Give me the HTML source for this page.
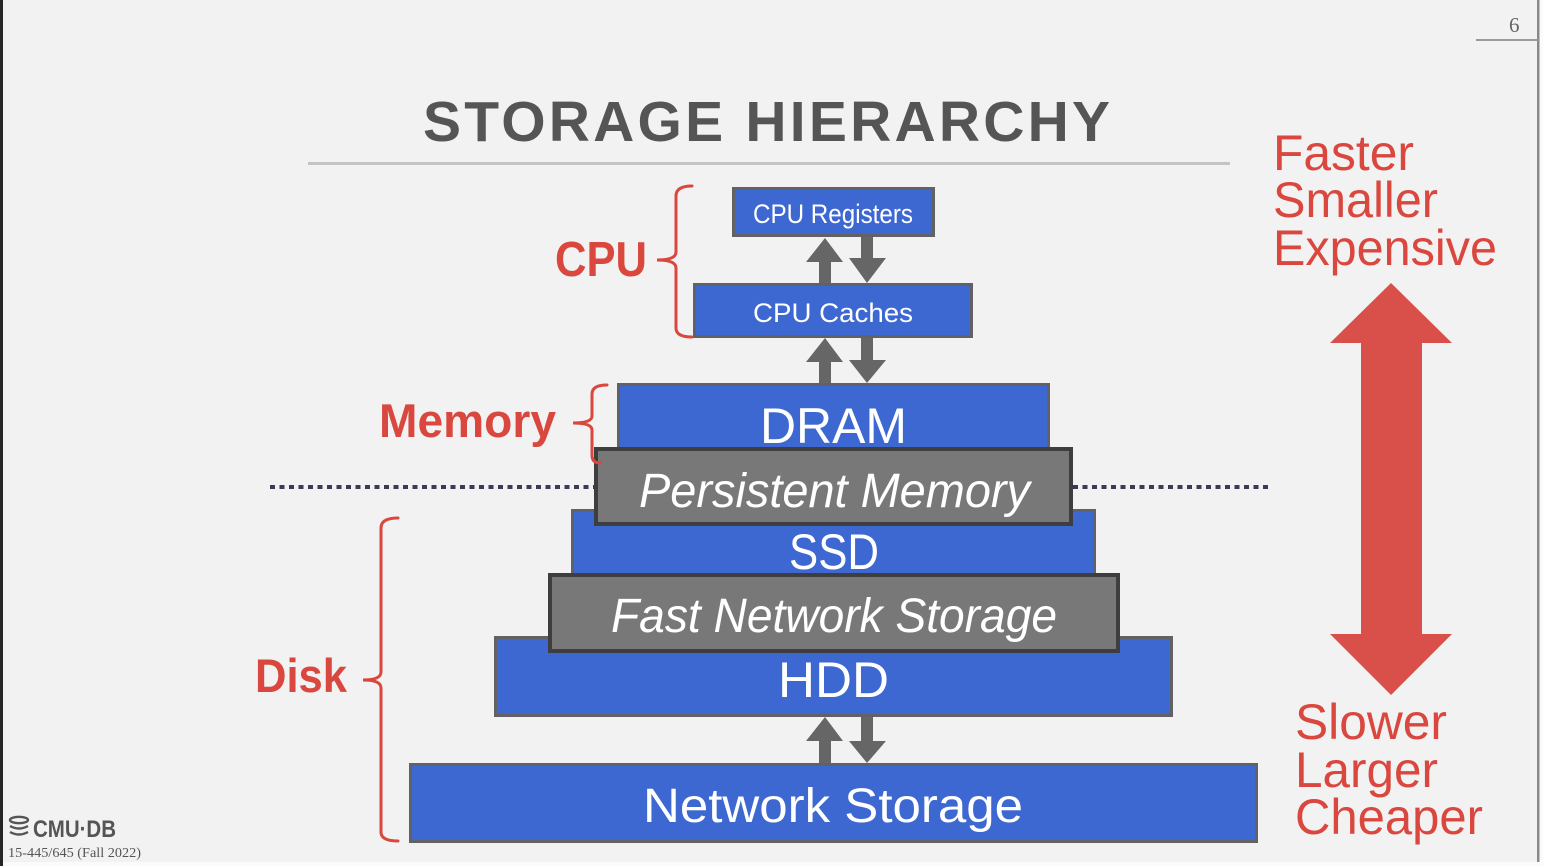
<!DOCTYPE html>
<html><head><meta charset="utf-8"><style>
html,body{margin:0;padding:0;background:#fff;}
svg{display:block;}
</style></head><body>
<svg width="1543" height="866" viewBox="0 0 1543 866" xmlns="http://www.w3.org/2000/svg" font-family="'Liberation Sans', sans-serif">
  <rect x="0" y="0" width="1543" height="866" fill="#fbfbfb"/>
  <rect x="0" y="0" width="1538" height="862" fill="#f2f2f2"/>
  <rect x="0" y="0" width="3" height="866" fill="#262626"/>
  <rect x="1537" y="0" width="2.5" height="862" fill="#8a8a8a"/>

  <!-- page number -->
  <text x="1509" y="32" font-family="'Liberation Serif', serif" font-size="21" fill="#666">6</text>
  <rect x="1476" y="39" width="62" height="2" fill="#9a9a9a"/>

  <!-- title -->
  <text x="423" y="141" font-size="57" font-weight="bold" fill="#555" textLength="687" lengthAdjust="spacing">STORAGE HIERARCHY</text>
  <rect x="308" y="162" width="922" height="3" fill="#c4c4c4"/>

  <!-- dotted separator -->
  <line x1="270" y1="487" x2="594" y2="487" stroke="#3b3b58" stroke-width="4" stroke-dasharray="5 4.5"/>
  <line x1="1073" y1="487" x2="1270" y2="487" stroke="#3b3b58" stroke-width="4" stroke-dasharray="5 4.5"/>

  <!-- arrows small -->
  <g fill="#666">
    <polygon points="825,238 843,262 831,262 831,283 819,283 819,262 806,262"/>
    <polygon points="861,237 873,237 873,258 886,258 867,283 849,258 861,258"/>
    <polygon points="825,338 843,362 831,362 831,383 819,383 819,362 806,362"/>
    <polygon points="861,338 873,338 873,360 886,360 867,383 849,360 861,360"/>
    <polygon points="825,717 843,741 831,741 831,763 819,763 819,741 806,741"/>
    <polygon points="861,717 873,717 873,741 886,741 867,763 849,741 861,741"/>
  </g>

  <!-- boxes -->
  <g stroke="#626262" stroke-width="3" fill="#3d68d1">
    <rect x="733.5" y="188.5" width="200" height="47"/>
    <rect x="694.5" y="284.5" width="277" height="52"/>
    <rect x="618.5" y="384.5" width="430" height="70"/>
    <rect x="572.5" y="510.5" width="522" height="70"/>
    <rect x="495.5" y="637.5" width="676" height="78"/>
    <rect x="410.5" y="764.5" width="846" height="77"/>
  </g>
  <g stroke="#3e3e3e" stroke-width="4" fill="#787878">
    <rect x="596" y="449" width="475" height="75"/>
    <rect x="550" y="575" width="568" height="76"/>
  </g>

  <!-- box labels -->
  <g fill="#ffffff">
    <text x="753" y="223" font-size="27" textLength="160" lengthAdjust="spacingAndGlyphs">CPU Registers</text>
    <text x="753" y="322" font-size="27" textLength="160" lengthAdjust="spacingAndGlyphs">CPU Caches</text>
    <text x="760" y="443" font-size="50" textLength="147" lengthAdjust="spacingAndGlyphs">DRAM</text>
    <text x="639" y="507" font-size="48" font-style="italic" textLength="391" lengthAdjust="spacingAndGlyphs">Persistent Memory</text>
    <text x="789" y="569" font-size="50" textLength="90" lengthAdjust="spacingAndGlyphs">SSD</text>
    <text x="611" y="632" font-size="48" font-style="italic" textLength="446" lengthAdjust="spacingAndGlyphs">Fast Network Storage</text>
    <text x="778" y="697" font-size="50" textLength="111" lengthAdjust="spacingAndGlyphs">HDD</text>
    <text x="643" y="822" font-size="48" textLength="380" lengthAdjust="spacingAndGlyphs">Network Storage</text>
  </g>

  <!-- left labels + braces -->
  <g fill="#d9473f" font-weight="bold">
    <text x="555" y="276" font-size="49" textLength="92" lengthAdjust="spacingAndGlyphs">CPU</text>
    <text x="379" y="437" font-size="47" textLength="177" lengthAdjust="spacingAndGlyphs">Memory</text>
    <text x="255" y="692" font-size="47" textLength="92" lengthAdjust="spacingAndGlyphs">Disk</text>
  </g>
  <g fill="none" stroke="#d9473f" stroke-width="3" stroke-linecap="round">
    <path d="M692,186 Q676,186 676,196 L676,252 Q676,260 657,260 Q676,260 676,268 L676,328 Q676,337 692,337"/>
    <path d="M607,385 Q592,385 592,394 L592,416 Q592,423 573,423 Q592,423 592,430 L592,455 Q592,463 600,463"/>
    <path d="M398,518 Q381,518 381,528 L381,672 Q381,680 363,680 Q381,680 381,688 L381,832 Q381,841 398,841"/>
  </g>

  <!-- right labels -->
  <g fill="#d9473f" font-size="50">
    <text x="1273" y="170" textLength="141" lengthAdjust="spacingAndGlyphs">Faster</text>
    <text x="1273" y="217" textLength="165" lengthAdjust="spacingAndGlyphs">Smaller</text>
    <text x="1273" y="265" textLength="224" lengthAdjust="spacingAndGlyphs">Expensive</text>
    <text x="1295" y="739" textLength="152" lengthAdjust="spacingAndGlyphs">Slower</text>
    <text x="1295" y="787" textLength="143" lengthAdjust="spacingAndGlyphs">Larger</text>
    <text x="1295" y="834" textLength="188" lengthAdjust="spacingAndGlyphs">Cheaper</text>
  </g>

  <!-- big red double arrow -->
  <polygon fill="#d9504a" points="1391,283 1452,343 1422,343 1422,634 1452,634 1391,695 1330,634 1361,634 1361,343 1330,343"/>

  <!-- footer -->
  <g fill="none" stroke="#555" stroke-width="2.4">
    <ellipse cx="19" cy="820" rx="9" ry="3.2"/>
    <path d="M10,826 Q19,831 28,826"/>
    <path d="M10,832 Q19,837 28,832"/>
  </g>
  <text x="33" y="837" font-size="24" font-weight="bold" fill="#555" textLength="83" lengthAdjust="spacingAndGlyphs">CMU·DB</text>
  <text x="8" y="857" font-family="'Liberation Serif', serif" font-size="14" fill="#555" textLength="133" lengthAdjust="spacingAndGlyphs">15-445/645 (Fall 2022)</text>
</svg>
</body></html>
